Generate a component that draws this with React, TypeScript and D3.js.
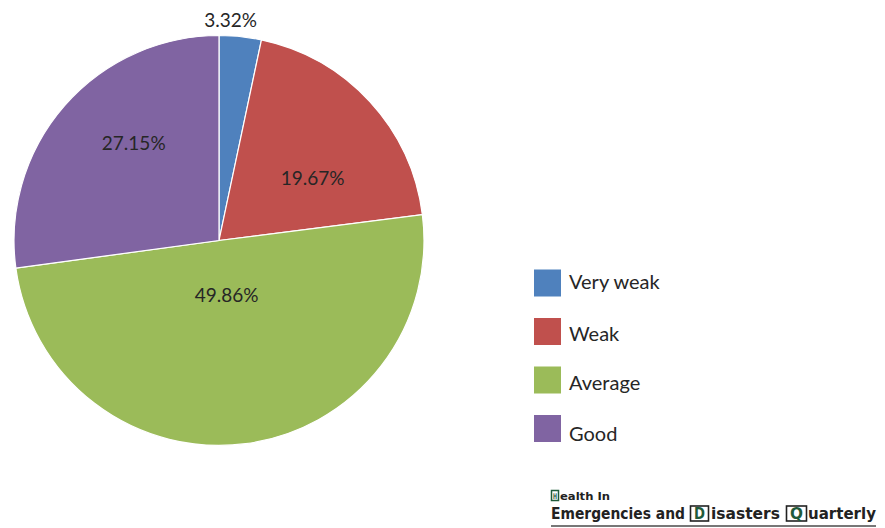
import React, { useRef, useEffect } from 'react';
import * as d3 from 'd3';

// Slice data, clockwise from 12 o'clock
const categories = ['Very weak', 'Weak', 'Average', 'Good'];
const percents = [3.32, 19.67, 49.86, 27.15];
const colors = ['#4F81BD', '#C0504D', '#9BBB59', '#8064A2'];

// label placement (polar, degrees from top / radius in px) - excel "best fit"
const labelAngles = [3, 56, 172, 319];
const labelRadii = [221, 113, 55, 130];

const W = 885;
const H = 528;

const App: React.FC = () => {
  const svgRef = useRef<SVGSVGElement>(null);

  useEffect(() => {
    if (!svgRef.current) return;
    const svg = d3.select(svgRef.current);
    svg.selectAll('*').remove();

    const cx = 219;
    const cy = 240.5;
    const radius = 205;

    const pie = d3.pie<number>().sort(null).value(d => d);
    const arc = d3.arc<d3.PieArcDatum<number>>().innerRadius(0).outerRadius(radius);

    const g = svg.append('g').attr('transform', `translate(${cx},${cy})`);

    g.selectAll('path')
      .data(pie(percents))
      .enter()
      .append('path')
      .attr('d', arc)
      .attr('fill', (_, i) => colors[i])
      .attr('stroke', '#ffffff')
      .attr('stroke-width', 1.2);

    // data labels
    g.selectAll('text.lbl')
      .data(percents)
      .enter()
      .append('text')
      .attr('class', 'lbl')
      .attr('x', (_, i) => d3.pointRadial((labelAngles[i] * Math.PI) / 180, labelRadii[i])[0])
      .attr('y', (_, i) => d3.pointRadial((labelAngles[i] * Math.PI) / 180, labelRadii[i])[1])
      .attr('text-anchor', 'middle')
      .attr('dominant-baseline', 'central')
      .style('font-family', 'Lato, "Open Sans", sans-serif')
      .style('font-size', '19px')
      .style('fill', '#262626')
      .text(d => `${d.toFixed(2)}%`);

    // legend
    const legendY = d3.scalePoint<string>()
      .domain(categories)
      .range([283, 428.5]);

    const legend = svg.append('g');
    const items = legend.selectAll('g')
      .data(categories)
      .enter()
      .append('g')
      .attr('transform', d => `translate(534,${legendY(d)})`);

    items.append('rect')
      .attr('x', 0)
      .attr('y', -13.5)
      .attr('width', 27)
      .attr('height', 27)
      .attr('fill', (_, i) => colors[i]);

    items.append('text')
      .attr('x', 35)
      .attr('y', (_, i) => (i === 0 ? -2 : i === 1 ? 1 : i === 2 ? 2 : 4))
      .attr('dominant-baseline', 'central')
      .style('font-family', 'Lato, "Open Sans", sans-serif')
      .style('font-size', '20px')
      .style('fill', '#262626')
      .text(d => d);

    // journal logo (bottom right)
    const green = '#1f5b3b';
    const logo = svg.append('g');

    // squeeze a bold text into a given width with a horizontal scale
    const fitText = (t: string, x: number, y: number, w: number, size: number, fill: string) => {
      const el = logo.append('text')
        .attr('x', 0).attr('y', 0)
        .style('font-family', '"DejaVu Sans", sans-serif')
        .style('font-weight', 'bold')
        .style('font-size', `${size}px`)
        .style('fill', fill)
        .text(t);
      const w0 = (el.node() as SVGTextElement).getComputedTextLength() || w;
      el.attr('transform', `translate(${x},${y}) scale(${w / w0},1)`);
    };

    // small "Health In"
    logo.append('rect').attr('x', 551.5).attr('y', 490.5).attr('width', 7).attr('height', 10)
      .attr('fill', 'none').attr('stroke', green).attr('stroke-width', 1.5);
    fitText('H', 553, 499, 4, 8, green);
    fitText('ealth In', 560, 500, 50, 11, '#222');

    // main line, segment by segment
    const segs: [string, number, number, boolean][] = [
      ['Emergencies and', 551, 134, false],
      ['D', 694, 11, true],
      ['isasters', 711, 69, false],
      ['Q', 790, 13, true],
      ['uarterly', 808, 68, false],
    ];
    segs.forEach(([t, x, w, boxed]) => {
      if (boxed) {
        logo.append('rect').attr('x', x - 3.5).attr('y', 506).attr('width', w + 7).attr('height', 15)
          .attr('fill', 'none').attr('stroke', '#222').attr('stroke-width', 1.6);
      }
      fitText(t, x, 519, w, 16, boxed ? green : '#222');
    });

    logo.append('line')
      .attr('x1', 551).attr('x2', 876).attr('y1', 526).attr('y2', 526)
      .attr('stroke', '#777').attr('stroke-width', 2);
  }, []);

  return (
    <svg
      ref={svgRef}
      width={W}
      height={H}
      style={{ position: 'absolute', left: 0, top: 0, background: '#ffffff' }}
    />
  );
};

export default App;
